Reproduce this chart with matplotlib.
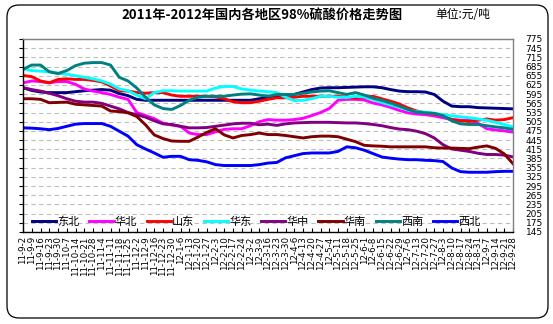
import matplotlib
matplotlib.use("Agg")
import matplotlib.pyplot as plt
from matplotlib.patches import FancyBboxPatch
from matplotlib.transforms import IdentityTransform

plt.rcParams['font.family'] = ['Noto Sans CJK SC', 'DejaVu Sans']

dates = [
    "11-9-2", "11-9-9", "11-9-16", "11-9-23", "11-9-30", "11-10-7", "11-10-14", "11-10-21",
    "11-10-28", "11-11-4", "11-11-11", "11-11-18", "11-11-25", "11-12-2", "11-12-9", "11-12-16",
    "11-12-23", "11-12-30", "12-1-6", "12-1-13", "12-1-20", "12-1-27", "12-2-3", "12-2-10",
    "12-2-17", "12-2-24", "12-3-2", "12-3-9", "12-3-16", "12-3-23", "12-3-30", "12-4-6",
    "12-4-13", "12-4-20", "12-4-27", "12-5-4", "12-5-11", "12-5-18", "12-5-25", "12-6-1",
    "12-6-8", "12-6-15", "12-6-22", "12-6-29", "12-7-6", "12-7-13", "12-7-20", "12-7-27",
    "12-8-3", "12-8-10", "12-8-17", "12-8-24", "12-8-31", "12-9-7", "12-9-14", "12-9-21",
    "12-9-28",
]

dongbei = [616, 607, 602, 600, 600, 600, 603, 606, 608, 610, 608, 597, 590, 578, 575, 575,
           575, 575, 575, 575, 575, 575, 575, 575, 575, 575, 575, 580, 583, 588, 591, 594,
           602, 610, 615, 616, 616, 617, 618, 619, 619, 616, 610, 605, 603, 603, 602, 594,
           572, 556, 554, 554, 551, 550, 549, 548, 547]
huabei = [632, 638, 636, 632, 636, 636, 627, 612, 605, 600, 594, 585, 578, 535, 525, 515,
          500, 494, 490, 468, 463, 463, 472, 480, 482, 482, 492, 505, 512, 510, 510, 512,
          516, 525, 535, 548, 575, 578, 578, 576, 566, 560, 552, 542, 534, 530, 528, 524,
          518, 512, 510, 510, 500, 482, 478, 475, 471]
shandong = [656, 652, 638, 632, 643, 645, 643, 643, 640, 635, 622, 606, 605, 600, 598, 600,
            600, 592, 588, 588, 588, 588, 586, 580, 570, 567, 567, 572, 578, 583, 583, 585,
            588, 588, 588, 588, 588, 585, 582, 585, 588, 580, 572, 563, 550, 540, 534, 530,
            525, 512, 508, 506, 510, 514, 510, 512, 518]
huadong = [678, 672, 670, 668, 664, 660, 655, 650, 645, 638, 628, 612, 606, 592, 580, 600,
           606, 606, 605, 605, 605, 605, 615, 620, 620, 612, 608, 605, 603, 600, 585, 574,
           575, 580, 588, 588, 585, 584, 588, 586, 578, 568, 560, 553, 543, 538, 536, 533,
           528, 524, 521, 518, 514, 510, 503, 496, 488]
huazhong = [616, 610, 605, 598, 590, 580, 572, 569, 569, 565, 556, 547, 535, 528, 520, 508,
            498, 496, 490, 485, 485, 486, 490, 494, 498, 500, 500, 495, 497, 493, 498, 501,
            502, 503, 503, 503, 502, 501, 501, 499, 496, 492, 486, 481, 479, 474, 466, 452,
            430, 416, 412, 408, 402, 398, 398, 396, 390]
huanan = [580, 580, 578, 567, 568, 569, 562, 560, 558, 556, 540, 538, 534, 522, 495, 462,
          450, 442, 441, 441, 455, 470, 482, 462, 452, 460, 463, 468, 463, 463, 460, 456,
          452, 456, 458, 458, 456, 448, 440, 428, 426, 425, 423, 423, 423, 423, 423, 420,
          419, 419, 418, 417, 422, 426, 418, 400, 368]
xinan = [676, 690, 690, 668, 662, 672, 688, 696, 698, 698, 690, 650, 638, 615, 585, 560,
         548, 545, 558, 575, 585, 588, 588, 588, 592, 595, 596, 592, 588, 594, 594, 594,
         598, 602, 605, 606, 600, 594, 600, 592, 582, 575, 566, 556, 545, 536, 534, 532,
         525, 508, 498, 496, 496, 492, 488, 485, 480]
xibei = [485, 484, 482, 479, 483, 490, 497, 499, 499, 499, 490, 474, 458, 430, 416, 403,
         389, 392, 392, 381, 379, 374, 365, 362, 362, 362, 362, 365, 370, 372, 387, 394,
         401, 403, 403, 403, 408, 423, 420, 412, 401, 390, 386, 383, 381, 381, 379, 378,
         375, 354, 342, 340, 340, 340, 342, 343, 343]

series_names = ["东北", "华北", "山东", "华东", "华中", "华南", "西南", "西北"]
series_values = [dongbei, huabei, shandong, huadong, huazhong, huanan, xinan, xibei]
series_colors = ["#000080", "#FF00FF", "#FF0000", "#00FFFF", "#800080", "#800000", "#008080", "#0000FF"]

yticks = list(range(145, 776, 30))

W, H = 553, 324
fig = plt.figure(figsize=(W / 100, H / 100), dpi=100)
fig.patch.set_facecolor("white")

ax = fig.add_axes([23 / W, 1 - 232 / H, 490 / W, (232 - 39) / H])
x = list(range(len(dates)))
for name, vals, col in zip(series_names, series_values, series_colors):
    ax.plot(x, vals, color=col, lw=2.1, label=name, solid_joinstyle="round")

ax.set_xlim(0, len(dates) - 1)
ax.set_ylim(145, 775)
ax.set_yticks(yticks)
ax.set_yticklabels([str(v) for v in yticks])
ax.set_xticks(x)
ax.set_xticklabels(dates, rotation=90, fontsize=6.3, family=["DejaVu Sans"])

ax.grid(axis="y", color="#BDBDBD", linestyle=(0, (4, 3)), linewidth=0.8)
ax.set_axisbelow(True)

ax.tick_params(axis="y", left=True, right=False, labelleft=False, labelright=True,
               direction="out", length=3, pad=6, labelsize=6.5, width=0.8)
for lab in ax.get_yticklabels():
    lab.set_family(["DejaVu Sans"])
ax.tick_params(axis="x", direction="in", length=3, pad=3, width=0.8)

ax.spines["left"].set_color("black")
ax.spines["bottom"].set_color("black")
ax.spines["top"].set_color("#808080")
ax.spines["right"].set_color("#808080")
for s in ax.spines.values():
    s.set_linewidth(1.0)

leg = ax.legend(loc="center left", bbox_to_anchor=(9 / 490, 0.055), ncol=8, frameon=False,
                fontsize=8, handlelength=2.2, handletextpad=0.1, columnspacing=0.85,
                borderaxespad=0, borderpad=0)

fig.text(262 / W, 1 - 15 / H, "2011年-2012年国内各地区98%硫酸价格走势图", ha="center", va="center",
         fontsize=9.5, fontweight="bold")
fig.text(435 / W, 1 - 15 / H, "单位:元/吨", ha="left", va="center", fontsize=8.5)

border = FancyBboxPatch((7, 6), 541, 313, boxstyle="round,pad=0,rounding_size=12",
                        transform=IdentityTransform(), fill=False, ec="black", lw=0.9)
fig.add_artist(border)

fig.savefig("out.png", dpi=100)
